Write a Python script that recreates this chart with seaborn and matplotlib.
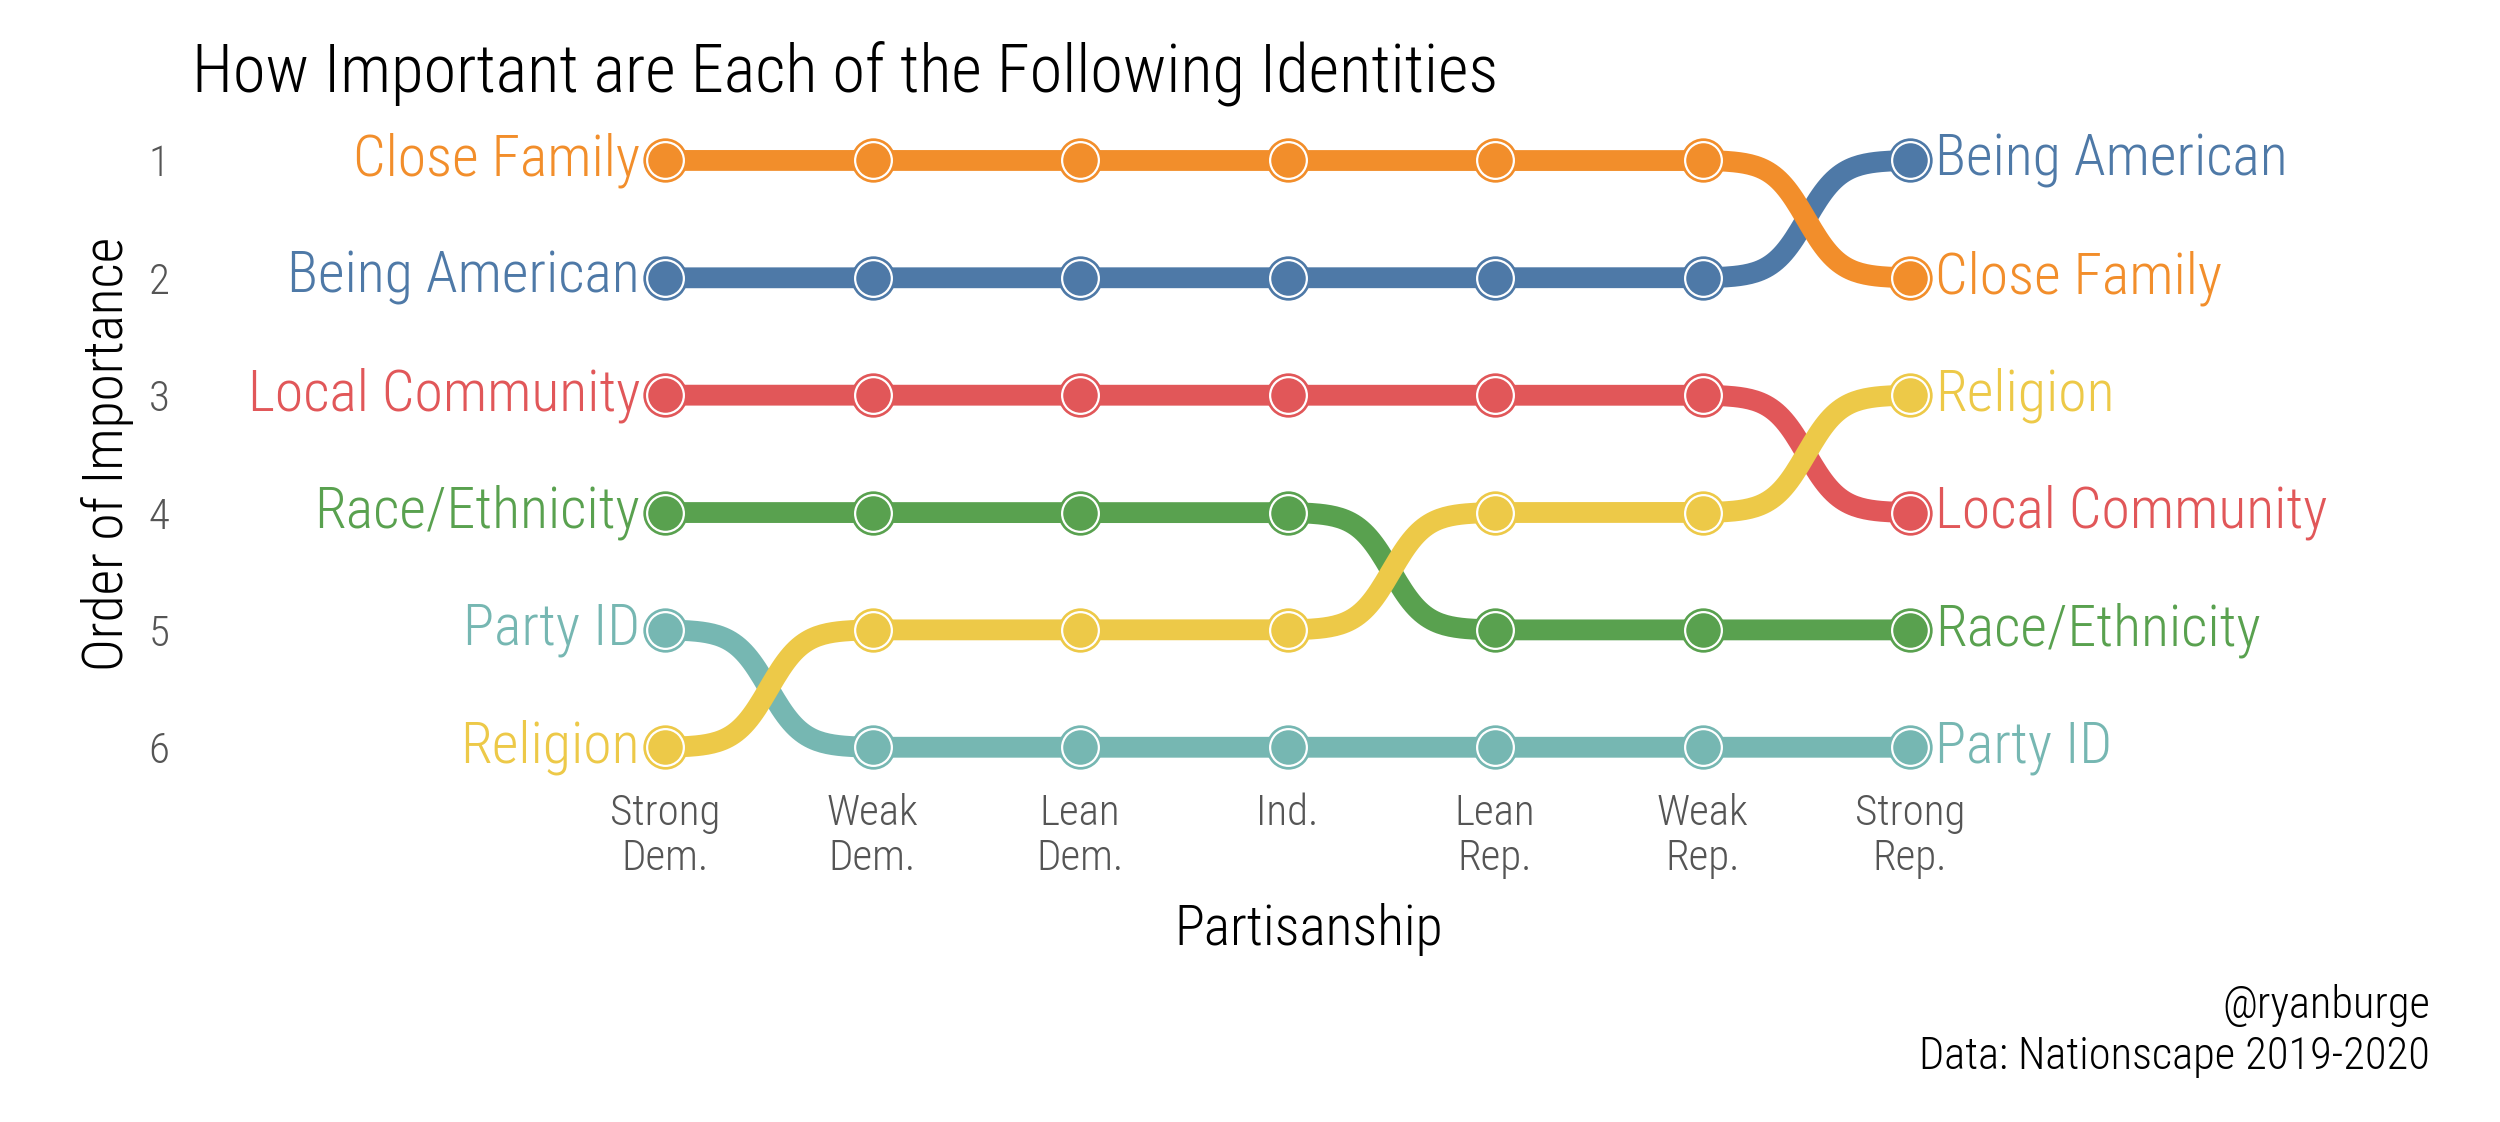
import numpy as np
import pandas as pd
import matplotlib
matplotlib.use("Agg")
import matplotlib.pyplot as plt
from matplotlib import font_manager
import seaborn as sns

# ---- data ----
partisanship = ["Strong\nDem.", "Weak\nDem.", "Lean\nDem.", "Ind.", "Lean\nRep.", "Weak\nRep.", "Strong\nRep."]
identities = ["Being American", "Close Family", "Local Community", "Party ID", "Race/Ethnicity", "Religion"]
rank_being_american = [2, 2, 2, 2, 2, 2, 1]
rank_close_family = [1, 1, 1, 1, 1, 1, 2]
rank_local_community = [3, 3, 3, 3, 3, 3, 4]
rank_party_id = [5, 6, 6, 6, 6, 6, 6]
rank_race_ethnicity = [4, 4, 4, 4, 5, 5, 5]
rank_religion = [6, 5, 5, 5, 4, 4, 3]
colors = ["#4E79A7", "#F28E2B", "#E15759", "#76B7B2", "#59A14F", "#EDC948"]
rank_ticks = [1, 2, 3, 4, 5, 6]

ranks = [rank_being_american, rank_close_family, rank_local_community,
         rank_party_id, rank_race_ethnicity, rank_religion]
palette = dict(zip(identities, colors))

pts = pd.DataFrame([
    {"identity": ident, "x": i, "rank": r}
    for ident, rr in zip(identities, ranks) for i, r in enumerate(rr)
])

# sigmoid-smoothed bump curves built from the rank arrays
def bump(rr, n=80, k=6.0):
    xs, ys = [], []
    for i in range(len(rr) - 1):
        t = np.linspace(0, 1, n)
        s = 1 / (1 + np.exp(-k * 2 * (t - 0.5)))
        s = (s - s[0]) / (s[-1] - s[0])
        xs.append(i + t)
        ys.append(rr[i] + (rr[i + 1] - rr[i]) * s)
    return np.concatenate(xs), np.concatenate(ys)

rows = []
for ident, rr in zip(identities, ranks):
    cx, cy = bump(rr)
    for j, (a, b) in enumerate(zip(cx, cy)):
        rows.append({"identity": ident, "x": a, "rank": b, "order": j})
curves = pd.DataFrame(rows)

sns.set_theme(style="white")

# pick a condensed font if one is installed
FONT = None
names = {f.name for f in font_manager.fontManager.ttflist}
for cand in ["Liberation Sans Narrow", "Roboto Condensed", "Open Sans Condensed",
             "DejaVu Sans Condensed"]:
    if cand in names:
        FONT = cand
        break
if FONT is None:
    FONT = "Roboto" if "Roboto" in names else "DejaVu Sans"
plt.rcParams["font.family"] = [FONT, "DejaVu Sans"]
plt.rcParams["font.weight"] = "light"
plt.rcParams["axes.labelweight"] = "light"

fig = plt.figure(figsize=(12.5, 5.61), dpi=200)
renderer = fig.canvas.get_renderer()
SCALE = 1.6  # reference-view px -> output px


def fit(text, target_w, base=20.0, cap=None):
    t = fig.text(0, 0, text, fontsize=base)
    w = t.get_window_extent(renderer).width
    t.remove()
    size = base * target_w * SCALE / w
    if cap is not None:
        size = min(size, cap)
    return size


LABEL_FS = fit("Local Community", 245, cap=21)
TITLE_FS = fit("How Important are Each of the Following Identities", 870, cap=24)
TICK_FS = fit("Strong", 73, cap=15.5)
AXLAB_FS = fit("Partisanship", 176, cap=20)
CAP_FS = fit("Data: Nationscape 2019-2020", 346, cap=16)

ax = fig.add_axes([0.2162, 0.2817, 0.5976, 0.6276])

for ident in identities:
    d = curves[curves.identity == ident]
    sns.lineplot(data=d, x="x", y="rank", color=palette[ident], lw=7.5,
                 sort=False, estimator=None, ax=ax, legend=False,
                 solid_capstyle="butt")
    p = pts[pts.identity == ident]
    sns.scatterplot(data=p, x="x", y="rank", color=palette[ident], s=255,
                    linewidth=0, ax=ax, legend=False, zorder=3)
    sns.scatterplot(data=p, x="x", y="rank", color=palette[ident], s=175,
                    edgecolor="white", linewidth=0.8, ax=ax, legend=False, zorder=4)

ax.set_xlim(-0.6, 6.6)
ax.set_ylim(6.5, 0.5)

# end labels
for ident, rr in zip(identities, ranks):
    ax.text(-0.12, rr[0], ident, ha="right", va="center", color=palette[ident], fontsize=LABEL_FS)
    ax.text(len(rr) - 1 + 0.12, rr[-1], ident, ha="left", va="center", color=palette[ident], fontsize=LABEL_FS)

ax.set_xticks(range(len(partisanship)))
ax.set_xticklabels(partisanship, fontsize=TICK_FS, color="#555555", linespacing=1.1)
ax.set_yticks(rank_ticks)
ax.set_yticklabels([str(v) for v in rank_ticks], fontsize=TICK_FS, color="#555555")
ax.tick_params(axis="y", length=0, pad=133.5)
ax.tick_params(axis="x", length=0, pad=-4.5)

ax.set_xlabel("Partisanship", fontsize=AXLAB_FS, color="black", fontweight="light")
ax.set_ylabel("Order of Importance", fontsize=AXLAB_FS, color="black", fontweight="light")
ax.xaxis.set_label_coords(0.514, -0.138)
ax.yaxis.set_label_coords(-0.272, 0.5)
for s in ax.spines.values():
    s.set_visible(False)
ax.grid(False)

fig.text(0.077, 0.935, "How Important are Each of the Following Identities",
         fontsize=TITLE_FS, color="black", ha="left", va="center")
fig.text(0.972, 0.104, "@ryanburge", fontsize=CAP_FS, ha="right", va="center", color="black")
fig.text(0.972, 0.058, "Data: Nationscape 2019-2020", fontsize=CAP_FS, ha="right", va="center", color="black")

fig.savefig("out.png", dpi=200, facecolor="white")
